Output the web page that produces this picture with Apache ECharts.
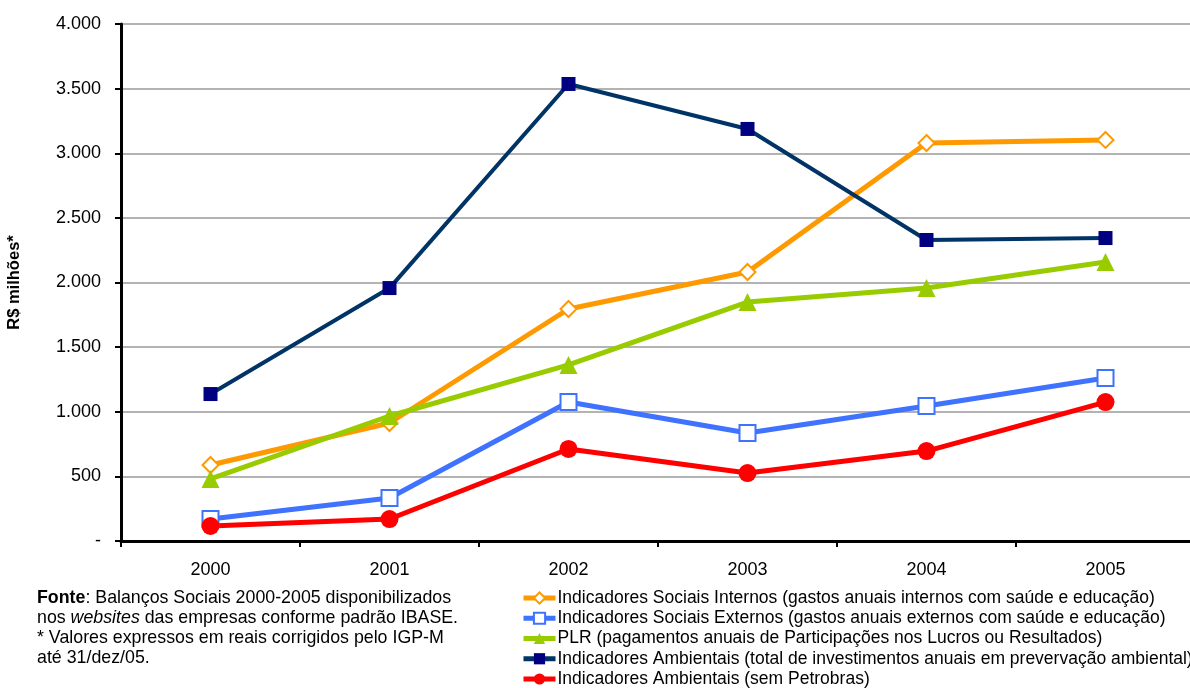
<!DOCTYPE html>
<html>
<head>
<meta charset="utf-8">
<script src="https://cdn.jsdelivr.net/npm/echarts@6/dist/echarts.min.js"></script>
<style>
html,body{margin:0;padding:0;background:#fff;}
#c{width:1190px;height:688px;}
</style>
</head>
<body>
<div id="c"></div>
<script>
const categories = ['2000','2001','2002','2003','2004','2005'];
const socInternos = [588, 913, 1795, 2081, 3079, 3103];
const socExternos = [170, 333, 1075, 836, 1044, 1261];
const plr = [480, 967, 1362, 1849, 1957, 2159];
const ambientais = [1137, 1957, 3536, 3188, 2329, 2344];
const ambSemPetro = [116, 170, 712, 526, 696, 1075];
const seriesNames = [
  'Indicadores Sociais Internos (gastos anuais internos com saúde e educação)',
  'Indicadores Sociais Externos (gastos anuais externos com saúde e educação)',
  'PLR (pagamentos anuais de Participações nos Lucros ou Resultados)',
  'Indicadores Ambientais (total de investimentos anuais em prevervação ambiental)',
  'Indicadores Ambientais (sem Petrobras)'
];
const yTickValues = [0, 500, 1000, 1500, 2000, 2500, 3000, 3500, 4000];
const yTickLabels = ['-', '500', '1.000', '1.500', '2.000', '2.500', '3.000', '3.500', '4.000'];

const FONT = 'Liberation Sans, Arial, sans-serif';
const chart = echarts.init(document.getElementById('c'), null, {renderer: 'canvas'});
chart.setOption({
  animation: false,
  backgroundColor: '#ffffff',
  textStyle: {fontFamily: FONT},
  grid: {left: 121, top: 24, bottom: 147, right: -5, containLabel: false, outerBoundsMode: 'none'},
  xAxis: {
    type: 'category',
    data: categories,
    boundaryGap: true,
    axisLine: {lineStyle: {color: '#000', width: 3}},
    axisTick: {show: true, length: 6, inside: false, lineStyle: {color: '#000', width: 2}},
    axisLabel: {color: '#000', fontSize: 18, margin: 20, fontFamily: FONT},
    splitLine: {show: false}
  },
  yAxis: {
    type: 'value',
    min: 0, max: 4000, interval: 500,
    name: 'R$ milhões*',
    nameLocation: 'middle',
    nameGap: 98,
    nameRotate: 90,
    nameTextStyle: {color: '#000', fontSize: 16.5, fontWeight: 'bold', fontFamily: FONT},
    axisLine: {show: true, lineStyle: {color: '#000', width: 3}},
    axisTick: {show: true, length: 6, lineStyle: {color: '#000', width: 2}},
    axisLabel: {
      color: '#000', fontSize: 18, margin: 20, fontFamily: FONT,
      formatter: function (v) { const i = yTickValues.indexOf(v); return i >= 0 ? yTickLabels[i] : ''; }
    },
    splitLine: {show: true, lineStyle: {color: '#9a9a9a', width: 1.5}}
  },
  legend: {
    orient: 'vertical',
    left: 521,
    top: 589,
    padding: 0,
    itemWidth: 32,
    itemHeight: 14,
    itemGap: 2.25,
    lineStyle: {width: 5},
    textStyle: {color: '#000', fontSize: 17.5, fontFamily: FONT, padding: [0,0,0,-3]},
    data: seriesNames
  },
  series: [
    {
      name: seriesNames[0], type: 'line', data: socInternos,
      symbol: 'diamond', symbolSize: 16,
      lineStyle: {color: '#FF9900', width: 5},
      itemStyle: {color: '#ffffff', borderColor: '#FF9900', borderWidth: 2},
      z: 3
    },
    {
      name: seriesNames[1], type: 'line', data: socExternos,
      symbol: 'rect', symbolSize: 16,
      lineStyle: {color: '#3F72FF', width: 5},
      itemStyle: {color: '#ffffff', borderColor: '#3F72FF', borderWidth: 2},
      z: 3
    },
    {
      name: seriesNames[2], type: 'line', data: plr,
      symbol: 'triangle', symbolSize: 18,
      lineStyle: {color: '#99CC00', width: 5},
      itemStyle: {color: '#99CC00', borderColor: '#99CC00', borderWidth: 0},
      z: 4
    },
    {
      name: seriesNames[3], type: 'line', data: ambientais,
      symbol: 'rect', symbolSize: 14,
      lineStyle: {color: '#003366', width: 4},
      itemStyle: {color: '#000080', borderColor: '#000080', borderWidth: 0},
      z: 3
    },
    {
      name: seriesNames[4], type: 'line', data: ambSemPetro,
      symbol: 'circle', symbolSize: 18,
      lineStyle: {color: '#FF0000', width: 5},
      itemStyle: {color: '#FF0000', borderColor: '#FF0000', borderWidth: 0},
      z: 3
    }
  ],
  graphic: [{
    type: 'text',
    left: 37,
    top: 588,
    style: {
      text: '{b|Fonte}: Balanços Sociais 2000-2005 disponibilizados\nnos {i|websites} das empresas conforme padrão IBASE.\n* Valores expressos em reais corrigidos pelo IGP-M\naté 31/dez/05.',
      fill: '#000',
      font: '17.8px ' + FONT,
      lineHeight: 20,
      rich: {
        b: {fontWeight: 'bold', fontSize: 17.8, fontFamily: FONT, fill: '#000', lineHeight: 20},
        i: {fontStyle: 'italic', fontSize: 17.8, fontFamily: FONT, fill: '#000', lineHeight: 20}
      }
    }
  }]
});
</script>
</body>
</html>
